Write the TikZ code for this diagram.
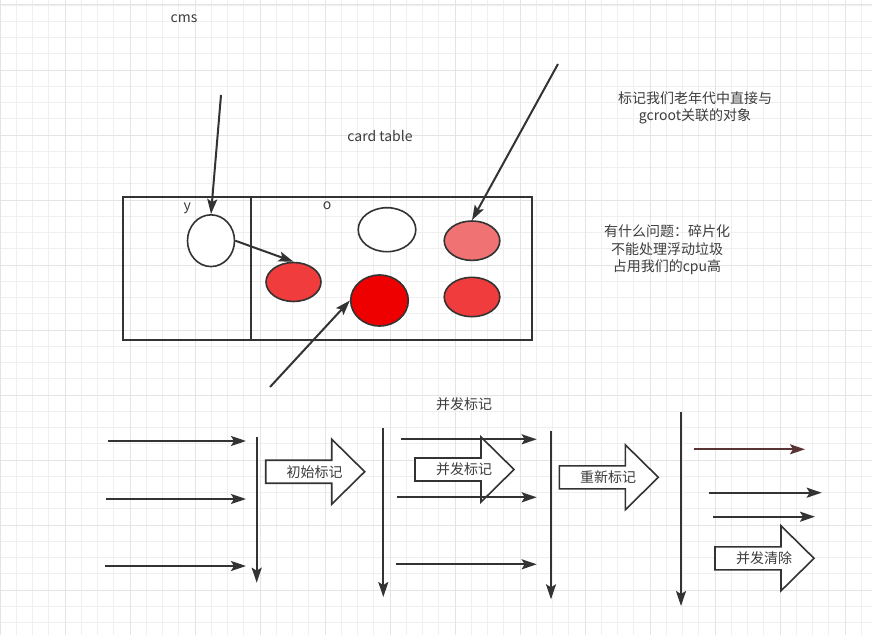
\documentclass[tikz,border=0pt]{standalone}
\usepackage{fontspec}
\setmainfont{Noto Sans CJK SC}
\usetikzlibrary{arrows.meta,shapes.geometric,positioning}
\definecolor{ink}{HTML}{333333}
\definecolor{txt}{HTML}{3C3C3C}
\definecolor{minorline}{HTML}{EFEFEF}
\definecolor{majorline}{HTML}{E4E4E4}
\definecolor{pinkfill}{HTML}{F07272}
\definecolor{redfill}{HTML}{F03C3C}
\definecolor{deepred}{HTML}{EE0000}
\definecolor{redline}{HTML}{5A3434}
\begin{document}
\begin{tikzpicture}[
 x=1pt, y=-1pt,
 line width=2pt,
 >={Stealth[length=15pt,width=10pt,inset=3pt]},
 every node/.style={font=\fontsize{14}{17.5}\selectfont, text=txt, align=center},
 region/.style={draw=ink,rectangle,inner sep=0pt,outer sep=0pt,anchor=north west,minimum height=143.3},
 obj/.style={draw=ink,ellipse,line width=1.6pt,inner sep=0pt,fill=white},
 bigarrow/.style={draw=ink,line width=1.6pt,fill=white},
 ptr/.style={draw=ink,->}
]
\useasboundingbox (0,0) rectangle (872,634);
\fill[white] (0,0) rectangle (872,634);
\begin{scope}
\clip (0,0) rectangle (872,634);
\draw[minorline, line width=0.8pt, shift={(0,5)}] (0,650) grid[step=16.25pt] (880,-20);
\draw[majorline, line width=1pt, shift={(0,5)}] (0,650) grid[step=65pt] (880,-20);
\end{scope}

% top part: card table
\node (cms) at (184,19) {cms};
\node (cardtable) at (380,136) {card table};
\node (young) [region, minimum width=128] at (122.7,196.7) {};
\node (old) [region, minimum width=281, right=0pt of young] {};
\node (ylabel) at (187.3,208) {y};
\node (olabel) at (327,205.5) {o};
\node (yobj) [obj, minimum width=47, minimum height=51.7] at (211,240.7) {};
\node (whiteobj) [obj, minimum width=57.6, minimum height=44] at (387,229.7) {};
\node (pinkobj) [obj, fill=pinkfill, minimum width=55.6, minimum height=39.4] at (472,240.7) {};
\node (leftred) [obj, fill=redfill, minimum width=55, minimum height=39] at (293.5,282) {};
\node (bigred) [obj, fill=deepred, minimum width=57.6, minimum height=51] at (379.5,300.5) {};
\node (rightred) [obj, fill=redfill, minimum width=55.6, minimum height=39.4] at (472,297) {};
\coordinate (cmsroot) at (221,95);
\coordinate (oldroot) at (558,64);
\coordinate (outside) at (270,387);
\draw[ptr] (cmsroot) -- (yobj.north);
\draw[ptr] (oldroot) -- (pinkobj.north);
\draw[ptr] (outside) -- (bigred.west);
\draw[ptr] (yobj.east) -- (leftred.north);
\node (rootnote) at (695,108) {标记我们老年代中直接与\\gcroot关联的对象};
\node (problems) at (667,250) {有什么问题：碎片化\\不能处理浮动垃圾\\占用我们的cpu高};

% bottom part: phases
\node (concurlabel) at (464,404) {并发标记};
\draw[ptr] (108,441) -- (246,441);
\draw[ptr] (106,499) -- (246,499);
\draw[ptr] (105,566) -- (246,566);
\draw[ptr] (256.7,436.7) -- (256.7,582.7);
\draw[bigarrow] (265.7,460.2) -- ++(66,0) -- ++(0,-21) -- ++(33,32.5) -- ++(-33,32.5) -- ++(0,-21) -- ++(-66,0) -- cycle;
\node (initmark) at (314.7,471.7) {初始标记};
\draw[ptr] (383.3,428) -- (383.3,597);
\draw[bigarrow] (415,458) -- ++(66,0) -- ++(0,-21) -- ++(33,32.5) -- ++(-33,32.5) -- ++(0,-21) -- ++(-66,0) -- cycle;
\node (concurmark) at (464,469.5) {并发标记};
\draw[ptr] (400.7,439.3) -- (536.7,439.3);
\draw[ptr] (396.7,497.3) -- (536.7,497.3);
\draw[ptr] (396,564.3) -- (536.7,564.3);
\draw[ptr] (551,430.7) -- (551,599.3);
\draw[bigarrow] (559.3,465.8) -- ++(66,0) -- ++(0,-21) -- ++(33,32.5) -- ++(-33,32.5) -- ++(0,-21) -- ++(-66,0) -- cycle;
\node (remark) at (608,477.3) {重新标记};
\draw[ptr] (681,411.7) -- (681,606);
\draw[ptr, draw=redline] (694.3,449.3) -- (805,449.3);
\draw[ptr] (709.3,492.7) -- (821.7,492.7);
\draw[ptr] (713.3,516.7) -- (815,516.7);
\draw[bigarrow] (715,546.8) -- ++(66,0) -- ++(0,-21) -- ++(33,32.5) -- ++(-33,32.5) -- ++(0,-21) -- ++(-66,0) -- cycle;
\node (sweep) at (764,558.3) {并发清除};
\end{tikzpicture}
\end{document}
